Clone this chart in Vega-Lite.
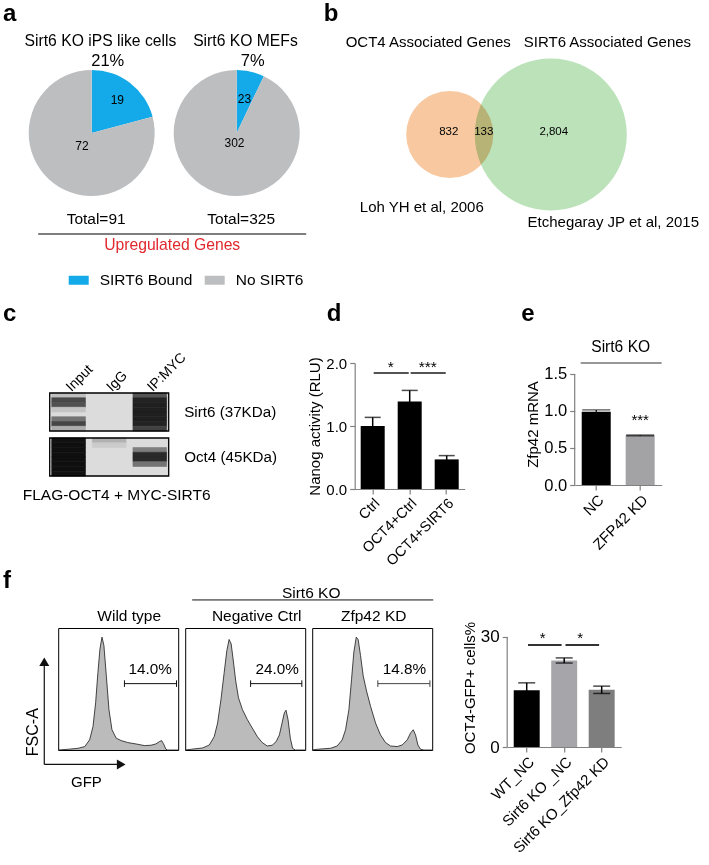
{
  "$schema": "https://vega.github.io/schema/vega-lite/v6.json",
  "padding": {"left": 3, "top": 1, "right": 0, "bottom": 0},
  "background": "white",
  "config": {
    "font": "Liberation Sans",
    "view": {"stroke": null},
    "axis": {"labelColor": "black", "titleColor": "black", "domainColor": "#808080", "tickColor": "#808080", "domainWidth": 1.2, "tickWidth": 1.2, "tickSize": 5, "labelPadding": 3, "titleFontWeight": "normal", "grid": false, "labelOverlap": false, "labelFontSize": 15, "titleFontSize": 15},
    "title": {"fontWeight": "normal", "color": "black", "fontSize": 15.5},
    "text": {"color": "black"},
    "legend": {"labelColor": "black"}
  },
  "datasets": {
    "pies": [
      {"cells": "Sirt6 KO iPS like cells", "binding": "SIRT6 Bound", "genes": 19},
      {"cells": "Sirt6 KO iPS like cells", "binding": "No SIRT6", "genes": 72},
      {"cells": "Sirt6 KO MEFs", "binding": "SIRT6 Bound", "genes": 23},
      {"cells": "Sirt6 KO MEFs", "binding": "No SIRT6", "genes": 302}
    ],
    "pieTotals": [
      {"cells": "Sirt6 KO iPS like cells", "total": "Total=91", "share": "21%"},
      {"cells": "Sirt6 KO MEFs", "total": "Total=325", "share": "7%"}
    ],
    "vennSets": [
      {"set": "OCT4", "genes": 965, "header": "OCT4 Associated Genes", "source": "Loh YH et al, 2006"},
      {"set": "SIRT6", "genes": 2937, "header": "SIRT6 Associated Genes", "source": "Etchegaray JP et al, 2015"}
    ],
    "vennRegions": [
      {"region": "OCT4 only", "genes": 832},
      {"region": "OCT4 and SIRT6", "genes": 133},
      {"region": "SIRT6 only", "genes": 2804}
    ],
    "blots": [{"blot": "Sirt6 (37KDa)"}, {"blot": "Oct4 (45KDa)"}],
    "bands": [
      {"blot": "Sirt6 (37KDa)", "lane": "Input", "bin": 1, "signal": 0.12},
      {"blot": "Sirt6 (37KDa)", "lane": "Input", "bin": 2, "signal": 0.66},
      {"blot": "Sirt6 (37KDa)", "lane": "Input", "bin": 3, "signal": 0.62},
      {"blot": "Sirt6 (37KDa)", "lane": "Input", "bin": 4, "signal": 0.1},
      {"blot": "Sirt6 (37KDa)", "lane": "Input", "bin": 6, "signal": 0.45},
      {"blot": "Sirt6 (37KDa)", "lane": "Input", "bin": 7, "signal": 0.68},
      {"blot": "Sirt6 (37KDa)", "lane": "Input", "bin": 8, "signal": 0.2},
      {"blot": "Sirt6 (37KDa)", "lane": "IP:MYC", "bin": 1, "signal": 0.6},
      {"blot": "Sirt6 (37KDa)", "lane": "IP:MYC", "bin": 2, "signal": 0.86},
      {"blot": "Sirt6 (37KDa)", "lane": "IP:MYC", "bin": 3, "signal": 0.88},
      {"blot": "Sirt6 (37KDa)", "lane": "IP:MYC", "bin": 4, "signal": 0.88},
      {"blot": "Sirt6 (37KDa)", "lane": "IP:MYC", "bin": 5, "signal": 0.88},
      {"blot": "Sirt6 (37KDa)", "lane": "IP:MYC", "bin": 6, "signal": 0.88},
      {"blot": "Sirt6 (37KDa)", "lane": "IP:MYC", "bin": 7, "signal": 0.86},
      {"blot": "Sirt6 (37KDa)", "lane": "IP:MYC", "bin": 8, "signal": 0.7},
      {"blot": "Oct4 (45KDa)", "lane": "Input", "bin": 1, "signal": 0.96},
      {"blot": "Oct4 (45KDa)", "lane": "Input", "bin": 2, "signal": 0.97},
      {"blot": "Oct4 (45KDa)", "lane": "Input", "bin": 3, "signal": 0.97},
      {"blot": "Oct4 (45KDa)", "lane": "Input", "bin": 4, "signal": 0.97},
      {"blot": "Oct4 (45KDa)", "lane": "Input", "bin": 5, "signal": 0.97},
      {"blot": "Oct4 (45KDa)", "lane": "Input", "bin": 6, "signal": 0.97},
      {"blot": "Oct4 (45KDa)", "lane": "Input", "bin": 7, "signal": 0.97},
      {"blot": "Oct4 (45KDa)", "lane": "Input", "bin": 8, "signal": 0.96},
      {"blot": "Oct4 (45KDa)", "lane": "IgG", "bin": 1, "signal": 0.18},
      {"blot": "Oct4 (45KDa)", "lane": "IgG", "bin": 2, "signal": 0.07},
      {"blot": "Oct4 (45KDa)", "lane": "IP:MYC", "bin": 3, "signal": 0.4},
      {"blot": "Oct4 (45KDa)", "lane": "IP:MYC", "bin": 4, "signal": 0.82},
      {"blot": "Oct4 (45KDa)", "lane": "IP:MYC", "bin": 5, "signal": 0.82},
      {"blot": "Oct4 (45KDa)", "lane": "IP:MYC", "bin": 6, "signal": 0.45}
    ],
    "nanog": [
      {"group": "Ctrl", "mean": 1.0, "sem": 0.137},
      {"group": "OCT4+Ctrl", "mean": 1.39, "sem": 0.175},
      {"group": "OCT4+SIRT6", "mean": 0.47, "sem": 0.06}
    ],
    "nanogSig": [
      {"from": "Ctrl", "to": "OCT4+Ctrl", "sig": "*"},
      {"from": "OCT4+Ctrl", "to": "OCT4+SIRT6", "sig": "***"}
    ],
    "zfp42": [
      {"group": "NC", "mean": 0.99, "sem": 0.025, "sig": ""},
      {"group": "ZFP42 KD", "mean": 0.67, "sem": 0.006, "sig": "***"}
    ],
    "zfpBracket": [
      {"from": "NC", "to": "ZFP42 KD", "cells": "Sirt6 KO"}
    ],
    "gfp": [
      {"group": "WT_NC", "mean": 15.5, "sem": 2.0},
      {"group": "Sirt6 KO _NC", "mean": 23.6, "sem": 0.7},
      {"group": "Sirt6 KO_Zfp42 KD", "mean": 15.6, "sem": 1.0}
    ],
    "gfpSig": [
      {"from": "WT_NC", "to": "Sirt6 KO _NC", "sig": "*"},
      {"from": "Sirt6 KO _NC", "to": "Sirt6 KO_Zfp42 KD", "sig": "*"}
    ],
    "gates": [
      {"sample": "Wild type", "lo": 55.2, "hi": 98.6, "pct": "14.0%"},
      {"sample": "Negative Ctrl", "lo": 54.5, "hi": 97.2, "pct": "24.0%"},
      {"sample": "Zfp42 KD", "lo": 54.7, "hi": 98.1, "pct": "14.8%"}
    ],
    "one": [{"k": 1}],
    "flow": [
      {"sample": "Wild type", "gfp": 0, "events": 0},
      {"sample": "Wild type", "gfp": 8.3, "events": 0.6},
      {"sample": "Wild type", "gfp": 16.6, "events": 1.4},
      {"sample": "Wild type", "gfp": 22.1, "events": 2.8},
      {"sample": "Wild type", "gfp": 26.2, "events": 8.3},
      {"sample": "Wild type", "gfp": 29.0, "events": 19.3},
      {"sample": "Wild type", "gfp": 31.2, "events": 38.7},
      {"sample": "Wild type", "gfp": 33.1, "events": 63.5},
      {"sample": "Wild type", "gfp": 34.8, "events": 82.9},
      {"sample": "Wild type", "gfp": 36.5, "events": 92.5},
      {"sample": "Wild type", "gfp": 38.1, "events": 85.6},
      {"sample": "Wild type", "gfp": 40.1, "events": 60.8},
      {"sample": "Wild type", "gfp": 42.3, "events": 33.1},
      {"sample": "Wild type", "gfp": 44.8, "events": 16.6},
      {"sample": "Wild type", "gfp": 48.3, "events": 9.7},
      {"sample": "Wild type", "gfp": 52.5, "events": 7.7},
      {"sample": "Wild type", "gfp": 58.0, "events": 6.1},
      {"sample": "Wild type", "gfp": 66.3, "events": 4.7},
      {"sample": "Wild type", "gfp": 71.8, "events": 3.6},
      {"sample": "Wild type", "gfp": 77.3, "events": 3.9},
      {"sample": "Wild type", "gfp": 81.5, "events": 5.0},
      {"sample": "Wild type", "gfp": 84.3, "events": 6.9},
      {"sample": "Wild type", "gfp": 86.2, "events": 7.7},
      {"sample": "Wild type", "gfp": 87.8, "events": 5.0},
      {"sample": "Wild type", "gfp": 89.8, "events": 0.6},
      {"sample": "Wild type", "gfp": 91.2, "events": 0},
      {"sample": "Wild type", "gfp": 100, "events": 0},
      {"sample": "Negative Ctrl", "gfp": 0, "events": 0},
      {"sample": "Negative Ctrl", "gfp": 5.0, "events": 0.6},
      {"sample": "Negative Ctrl", "gfp": 14.6, "events": 1.7},
      {"sample": "Negative Ctrl", "gfp": 20.1, "events": 4.1},
      {"sample": "Negative Ctrl", "gfp": 24.2, "events": 11.0},
      {"sample": "Negative Ctrl", "gfp": 27.0, "events": 22.1},
      {"sample": "Negative Ctrl", "gfp": 29.8, "events": 41.4},
      {"sample": "Negative Ctrl", "gfp": 32.5, "events": 63.5},
      {"sample": "Negative Ctrl", "gfp": 34.7, "events": 81.5},
      {"sample": "Negative Ctrl", "gfp": 36.6, "events": 90.6},
      {"sample": "Negative Ctrl", "gfp": 38.3, "events": 87.0},
      {"sample": "Negative Ctrl", "gfp": 39.9, "events": 74.6},
      {"sample": "Negative Ctrl", "gfp": 42.1, "events": 56.6},
      {"sample": "Negative Ctrl", "gfp": 44.4, "events": 42.8},
      {"sample": "Negative Ctrl", "gfp": 47.7, "events": 33.1},
      {"sample": "Negative Ctrl", "gfp": 51.8, "events": 24.9},
      {"sample": "Negative Ctrl", "gfp": 55.9, "events": 18.0},
      {"sample": "Negative Ctrl", "gfp": 60.1, "events": 11.0},
      {"sample": "Negative Ctrl", "gfp": 64.2, "events": 6.1},
      {"sample": "Negative Ctrl", "gfp": 68.3, "events": 3.3},
      {"sample": "Negative Ctrl", "gfp": 72.5, "events": 3.9},
      {"sample": "Negative Ctrl", "gfp": 75.8, "events": 6.9},
      {"sample": "Negative Ctrl", "gfp": 78.5, "events": 12.4},
      {"sample": "Negative Ctrl", "gfp": 80.7, "events": 22.1},
      {"sample": "Negative Ctrl", "gfp": 82.6, "events": 30.4},
      {"sample": "Negative Ctrl", "gfp": 84.0, "events": 32.6},
      {"sample": "Negative Ctrl", "gfp": 85.7, "events": 24.9},
      {"sample": "Negative Ctrl", "gfp": 87.6, "events": 9.7},
      {"sample": "Negative Ctrl", "gfp": 89.5, "events": 1.4},
      {"sample": "Negative Ctrl", "gfp": 91.7, "events": 0},
      {"sample": "Negative Ctrl", "gfp": 100, "events": 0},
      {"sample": "Zfp42 KD", "gfp": 0, "events": 0},
      {"sample": "Zfp42 KD", "gfp": 4.2, "events": 0.6},
      {"sample": "Zfp42 KD", "gfp": 15.3, "events": 1.4},
      {"sample": "Zfp42 KD", "gfp": 20.8, "events": 3.3},
      {"sample": "Zfp42 KD", "gfp": 25.0, "events": 8.3},
      {"sample": "Zfp42 KD", "gfp": 27.8, "events": 16.6},
      {"sample": "Zfp42 KD", "gfp": 30.6, "events": 33.1},
      {"sample": "Zfp42 KD", "gfp": 32.8, "events": 58.0},
      {"sample": "Zfp42 KD", "gfp": 34.7, "events": 80.1},
      {"sample": "Zfp42 KD", "gfp": 36.7, "events": 92.5},
      {"sample": "Zfp42 KD", "gfp": 38.3, "events": 90.6},
      {"sample": "Zfp42 KD", "gfp": 40.3, "events": 77.3},
      {"sample": "Zfp42 KD", "gfp": 42.5, "events": 60.8},
      {"sample": "Zfp42 KD", "gfp": 45.3, "events": 48.3},
      {"sample": "Zfp42 KD", "gfp": 48.6, "events": 35.9},
      {"sample": "Zfp42 KD", "gfp": 52.8, "events": 22.1},
      {"sample": "Zfp42 KD", "gfp": 56.9, "events": 12.4},
      {"sample": "Zfp42 KD", "gfp": 61.1, "events": 6.1},
      {"sample": "Zfp42 KD", "gfp": 65.3, "events": 3.3},
      {"sample": "Zfp42 KD", "gfp": 70.8, "events": 2.8},
      {"sample": "Zfp42 KD", "gfp": 75.0, "events": 4.1},
      {"sample": "Zfp42 KD", "gfp": 79.2, "events": 8.3},
      {"sample": "Zfp42 KD", "gfp": 81.9, "events": 13.8},
      {"sample": "Zfp42 KD", "gfp": 84.2, "events": 16.6},
      {"sample": "Zfp42 KD", "gfp": 86.1, "events": 12.4},
      {"sample": "Zfp42 KD", "gfp": 88.1, "events": 4.1},
      {"sample": "Zfp42 KD", "gfp": 90.3, "events": 0.6},
      {"sample": "Zfp42 KD", "gfp": 93.1, "events": 0},
      {"sample": "Zfp42 KD", "gfp": 100, "events": 0}
    ]
  },
  "columns": 1,
  "align": "none",
  "spacing": 12,
  "resolve": {"scale": {"color": "independent", "size": "independent"}, "legend": {"color": "independent", "size": "independent"}},
  "concat": [
    {
      "columns": 2, "align": "none", "spacing": 6.7,
      "resolve": {"scale": {"color": "independent", "size": "independent"}, "legend": {"color": "independent", "size": "independent"}},
      "concat": [
        {
          "width": 1, "height": 1,
          "data": {"name": "one"},
          "mark": {"type": "text", "text": ""},
          "title": {"text": "a", "anchor": "start", "frame": "group", "offset": 20, "fontSize": 24, "fontWeight": "bold", "baseline": "alphabetic"}
        },
        {
          "columns": 2, "align": "none", "spacing": 18,
          "resolve": {"scale": {"color": "independent", "size": "independent"}, "legend": {"color": "independent", "size": "independent"}},
          "concat": [
            {
              "width": 268, "height": 126,
              "data": {"name": "pies"},
              "encoding": {
                "x": {"field": "cells", "type": "nominal",
                  "scale": {"type": "point", "domain": ["Sirt6 KO iPS like cells", "Sirt6 KO MEFs"], "padding": 0.424, "align": 0.439},
                  "axis": {"orient": "bottom", "offset": 37.5, "domain": true, "domainColor": "black", "domainWidth": 1.2, "ticks": false, "labels": false, "title": "Upregulated Genes", "titleColor": "#E0282D", "titleFontSize": 15.7, "titlePadding": 4}}
              },
              "layer": [
                {"transform": [{"filter": "datum.cells === 'Sirt6 KO iPS like cells'"}],
                 "mark": {"type": "arc", "radius": 63},
                 "encoding": {
                   "theta": {"field": "genes", "type": "quantitative", "stack": true},
                   "order": {"field": "binding", "sort": "descending"},
                   "color": {"field": "binding", "type": "nominal",
                     "scale": {"domain": ["SIRT6 Bound", "No SIRT6"], "range": ["#14A9E8", "#BDBEC0"]},
                     "legend": {"orient": "none", "legendX": 31, "legendY": 200, "direction": "horizontal", "title": null, "symbolType": "M-1,-0.45H1V0.45H-1Z", "symbolSize": 400, "symbolStrokeWidth": 0, "labelFontSize": 15.5, "labelOffset": 11, "columnPadding": 12, "padding": 0}}
                 }},
                {"transform": [{"filter": "datum.cells === 'Sirt6 KO MEFs'"}],
                 "mark": {"type": "arc", "radius": 63},
                 "encoding": {
                   "theta": {"field": "genes", "type": "quantitative", "stack": true},
                   "order": {"field": "binding", "sort": "descending"},
                   "color": {"field": "binding", "type": "nominal"}
                 }},
                {"transform": [{"filter": "datum.cells === 'Sirt6 KO iPS like cells'"}],
                 "mark": {"type": "text", "radius": 42, "fontSize": 12},
                 "encoding": {
                   "theta": {"field": "genes", "type": "quantitative", "stack": true},
                   "order": {"field": "binding", "sort": "descending"},
                   "text": {"condition": {"test": "datum.binding === 'SIRT6 Bound'", "field": "genes", "type": "quantitative"}, "value": ""}
                 }},
                {"transform": [{"filter": "datum.cells === 'Sirt6 KO iPS like cells'"}],
                 "mark": {"type": "text", "radius": 16, "fontSize": 12},
                 "encoding": {
                   "theta": {"field": "genes", "type": "quantitative", "stack": true},
                   "order": {"field": "binding", "sort": "descending"},
                   "text": {"condition": {"test": "datum.binding === 'No SIRT6'", "field": "genes", "type": "quantitative"}, "value": ""}
                 }},
                {"transform": [{"filter": "datum.cells === 'Sirt6 KO MEFs'"}],
                 "mark": {"type": "text", "radius": 35, "fontSize": 12},
                 "encoding": {
                   "theta": {"field": "genes", "type": "quantitative", "stack": true},
                   "order": {"field": "binding", "sort": "descending"},
                   "text": {"condition": {"test": "datum.binding === 'SIRT6 Bound'", "field": "genes", "type": "quantitative"}, "value": ""}
                 }},
                {"transform": [{"filter": "datum.cells === 'Sirt6 KO MEFs'"}],
                 "mark": {"type": "text", "radius": 10, "fontSize": 12},
                 "encoding": {
                   "theta": {"field": "genes", "type": "quantitative", "stack": true},
                   "order": {"field": "binding", "sort": "descending"},
                   "text": {"condition": {"test": "datum.binding === 'No SIRT6'", "field": "genes", "type": "quantitative"}, "value": ""}
                 }},
                {"data": {"name": "pieTotals"},
                 "mark": {"type": "text", "theta": 3.09, "radius": 86.5, "fontSize": 15.5},
                 "encoding": {"text": {"field": "total"}}},
                {"data": {"name": "pieTotals"},
                 "mark": {"type": "text", "theta": 0.095, "radius": 92, "fontSize": 15.7},
                 "encoding": {"text": {"field": "cells"}}},
                {"data": {"name": "pieTotals"},
                 "mark": {"type": "text", "theta": 0.22, "radius": 73.5, "fontSize": 16.5},
                 "encoding": {"text": {"field": "share"}}}
              ],
              "resolve": {"scale": {"theta": "independent"}}
            },
            {
              "width": 303, "height": 129,
              "title": {"text": "b", "anchor": "start", "frame": "group", "dx": -18, "offset": -9.5, "fontSize": 24, "fontWeight": "bold", "baseline": "alphabetic"},
              "encoding": {
                "x": {"field": "set", "type": "nominal", "scale": {"type": "point", "domain": ["OCT4", "SIRT6"], "padding": 1, "align": 0.535}, "axis": null}
              },
              "layer": [
                {"data": {"name": "vennSets"},
                 "mark": {"type": "point", "shape": "circle", "filled": true, "opacity": 1, "strokeWidth": 0, "blend": "multiply"},
                 "encoding": {
                   "size": {"field": "genes", "type": "quantitative", "scale": {"domain": [0, 2937], "range": [0, 23104]}, "legend": null},
                   "color": {"field": "set", "type": "nominal", "scale": {"domain": ["OCT4", "SIRT6"], "range": ["#F8C9A0", "#BCE2BA"]}, "legend": null}
                 }},
                {"data": {"name": "vennSets"}, "transform": [{"filter": "datum.set === 'OCT4'"}],
                 "mark": {"type": "text", "align": "right", "dx": 61, "dy": -92.5, "fontSize": 15},
                 "encoding": {"text": {"field": "header"}}},
                {"data": {"name": "vennSets"}, "transform": [{"filter": "datum.set === 'SIRT6'"}],
                 "mark": {"type": "text", "align": "left", "dx": -27, "dy": -92.5, "fontSize": 15},
                 "encoding": {"text": {"field": "header"}}},
                {"data": {"name": "vennSets"}, "transform": [{"filter": "datum.set === 'OCT4'"}],
                 "mark": {"type": "text", "dx": -28, "dy": 72, "fontSize": 15},
                 "encoding": {"text": {"field": "source"}}},
                {"data": {"name": "vennSets"}, "transform": [{"filter": "datum.set === 'SIRT6'"}],
                 "mark": {"type": "text", "dx": 62.5, "dy": 87.5, "fontSize": 15},
                 "encoding": {"text": {"field": "source"}}},
                {"data": {"name": "vennRegions"}, "transform": [{"filter": "datum.region === 'OCT4 only'"}],
                 "mark": {"type": "text", "dx": -1, "dy": -3, "fontSize": 11.5},
                 "encoding": {"x": {"datum": "OCT4", "type": "nominal", "axis": null}, "text": {"field": "genes", "type": "quantitative", "format": ","}}},
                {"data": {"name": "vennRegions"}, "transform": [{"filter": "datum.region === 'OCT4 and SIRT6'"}],
                 "mark": {"type": "text", "dx": 34, "dy": -3, "fontSize": 11.5},
                 "encoding": {"x": {"datum": "OCT4", "type": "nominal", "axis": null}, "text": {"field": "genes", "type": "quantitative", "format": ","}}},
                {"data": {"name": "vennRegions"}, "transform": [{"filter": "datum.region === 'SIRT6 only'"}],
                 "mark": {"type": "text", "dx": 3, "dy": -3, "fontSize": 11.5},
                 "encoding": {"x": {"datum": "SIRT6", "type": "nominal", "axis": null}, "text": {"field": "genes", "type": "quantitative", "format": ","}}}
              ]
            }
          ]
        }
      ]
    },
    {
      "columns": 1, "align": "none", "spacing": 0,
      "resolve": {"scale": {"color": "independent"}, "legend": {"color": "independent"}},
      "concat": [
        {
          "columns": 2, "align": "none", "spacing": 5.7,
          "resolve": {"scale": {"color": "independent"}, "legend": {"color": "independent"}},
          "concat": [
            {
              "width": 1, "height": 1,
              "data": {"name": "one"},
              "mark": {"type": "text", "text": ""},
              "title": {"text": "c", "anchor": "start", "frame": "group", "offset": 13, "fontSize": 24, "fontWeight": "bold", "baseline": "alphabetic"}
            },
            {
              "columns": 2, "align": "none", "spacing": 56,
              "resolve": {"scale": {"color": "independent"}, "legend": {"color": "independent"}},
              "concat": [
                {
                  "columns": 2, "align": "none", "spacing": 30,
                  "resolve": {"scale": {"color": "independent"}, "legend": {"color": "independent"}},
                  "concat": [
                    {
                      "width": 119, "height": 113,
                      "title": {"text": "FLAG-OCT4 + MYC-SIRT6", "orient": "bottom", "anchor": "start", "frame": "group", "dx": -27, "offset": 11, "fontSize": 15.5, "baseline": "top"},
                      "encoding": {
                        "y": {"field": "blot", "type": "nominal", "scale": {"domain": ["Sirt6 (37KDa)", "Oct4 (45KDa)"], "paddingInner": 0.156, "paddingOuter": 0.333, "align": 1},
                          "axis": {"orient": "right", "title": null, "ticks": false, "domain": false, "labelPadding": 15, "labelFontSize": 15.2}}
                      },
                      "layer": [
                        {"data": {"name": "blots"}, "mark": {"type": "rect", "fill": "#dcdcdc"}},
                        {"data": {"name": "bands"}, "mark": {"type": "rect", "strokeWidth": 0.6},
                         "encoding": {
                           "x": {"field": "lane", "type": "nominal", "scale": {"domain": ["Input", "IgG", "IP:MYC"], "paddingInner": 0.17, "paddingOuter": 0.05},
                             "axis": {"orient": "top", "offset": -30, "title": null, "ticks": false, "domain": false, "labelAngle": -45, "labelAlign": "left", "labelBaseline": "middle", "labelPadding": 4, "labelFontSize": 14}},
                           "yOffset": {"field": "bin", "type": "ordinal", "scale": {"domain": [1, 2, 3, 4, 5, 6, 7, 8], "paddingInner": 0, "paddingOuter": 0}},
                           "color": {"field": "signal", "type": "quantitative", "scale": {"domain": [0, 1], "range": ["#dcdcdc", "#060606"]}, "legend": null},
                           "stroke": {"field": "signal", "type": "quantitative", "scale": {"domain": [0, 1], "range": ["#dcdcdc", "#060606"]}, "legend": null}
                         }},
                        {"data": {"name": "blots"}, "mark": {"type": "rect", "fill": "transparent", "stroke": "black", "strokeWidth": 1.3}}
                      ]
                    },
                    {
                      "width": 110, "height": 126,
                      "title": {"text": "d", "anchor": "start", "frame": "group", "dx": -28, "offset": 11, "fontSize": 24, "fontWeight": "bold", "baseline": "alphabetic"},
                      "layer": [
                        {"data": {"name": "nanog"}, "mark": {"type": "bar", "color": "black"},
                         "encoding": {
                           "x": {"field": "group", "type": "nominal", "title": null, "scale": {"domain": ["Ctrl", "OCT4+Ctrl", "OCT4+SIRT6"], "paddingInner": 0.351, "paddingOuter": 0.162},
                             "axis": {"title": null, "labelAngle": -45, "labelAlign": "right", "labelBaseline": "top", "labelFontSize": 14.5, "labelPadding": 2}},
                           "y": {"field": "mean", "type": "quantitative", "title": "Nanog activity (RLU)", "scale": {"domain": [0, 2], "nice": false},
                             "axis": {"values": [0, 0.5, 1, 1.5, 2], "format": ".1f", "title": "Nanog activity (RLU)", "titlePadding": 3.5}}
                         }},
                        {"data": {"name": "nanog"}, "mark": {"type": "errorbar", "color": "black", "thickness": 1.5, "ticks": {"size": 16}},
                         "encoding": {
                           "x": {"field": "group", "type": "nominal", "title": null},
                           "y": {"field": "mean", "type": "quantitative", "title": "Nanog activity (RLU)"},
                           "yError": {"field": "sem"}
                         }},
                        {"data": {"name": "nanogSig"}, "mark": {"type": "rule", "color": "#1a1a1a", "strokeWidth": 1.5},
                         "encoding": {
                           "x": {"field": "from", "type": "nominal", "title": null, "bandPosition": 0.54},
                           "x2": {"field": "to", "bandPosition": 0.46},
                           "y": {"datum": 1.84}
                         }},
                        {"data": {"name": "nanogSig"}, "mark": {"type": "text", "dx": 18, "fontSize": 15.5, "baseline": "alphabetic"},
                         "encoding": {
                           "x": {"field": "from", "type": "nominal", "title": null},
                           "y": {"datum": 1.86},
                           "text": {"field": "sig"}
                         }}
                      ]
                    }
                  ]
                },
                {
                  "title": {"text": "e", "anchor": "start", "dx": -4, "offset": -4.7, "fontSize": 24, "fontWeight": "bold", "baseline": "alphabetic"},
                  "vconcat": [
                    {
                      "width": 87, "height": 122,
                      "title": {"text": "Sirt6 KO", "fontSize": 15.6, "anchor": "middle", "frame": "group", "dx": 2.5, "offset": -5.1, "baseline": "alphabetic"},
                      "layer": [
                        {"data": {"name": "zfp42"}, "mark": {"type": "bar"},
                         "encoding": {
                           "x": {"field": "group", "type": "nominal", "title": null, "scale": {"domain": ["NC", "ZFP42 KD"], "paddingInner": 0.34, "paddingOuter": 0.16},
                             "axis": {"title": null, "labelAngle": -45, "labelAlign": "right", "labelBaseline": "top", "labelFontSize": 15, "labelPadding": 2}},
                           "y": {"field": "mean", "type": "quantitative", "title": "Zfp42 mRNA", "scale": {"domain": [0, 1.6486], "nice": false},
                             "axis": {"values": [0, 0.5, 1, 1.5], "format": ".1f", "title": "Zfp42 mRNA", "domain": false, "labelFontSize": 16.5, "titlePadding": 3.5}},
                           "color": {"field": "group", "type": "nominal", "scale": {"domain": ["NC", "ZFP42 KD"], "range": ["#000000", "#A3A3A6"]}, "legend": null}
                         }},
                        {"data": {"name": "zfp42"}, "mark": {"type": "errorbar", "color": "black", "thickness": 1.2, "ticks": {"size": 28}},
                         "encoding": {
                           "x": {"field": "group", "type": "nominal", "title": null},
                           "y": {"field": "mean", "type": "quantitative", "title": "Zfp42 mRNA"},
                           "yError": {"field": "sem"}
                         }},
                        {"data": {"name": "zfpBracket"}, "mark": {"type": "rule", "color": "#808080", "strokeWidth": 1.2},
                         "encoding": {
                           "x": {"field": "from", "type": "nominal", "title": null, "bandPosition": -0.2424},
                           "y": {"datum": 0},
                           "y2": {"datum": 1.5}
                         }},
                        {"data": {"name": "zfpBracket"}, "mark": {"type": "rule", "color": "#333333", "strokeWidth": 1.2},
                         "encoding": {
                           "x": {"field": "from", "type": "nominal", "title": null, "bandPosition": -0.036},
                           "x2": {"field": "to", "bandPosition": 1.242},
                           "y": {"datum": 1.6486}
                         }},
                        {"data": {"name": "zfp42"}, "mark": {"type": "text", "fontSize": 15, "baseline": "alphabetic"},
                         "encoding": {
                           "x": {"field": "group", "type": "nominal", "title": null},
                           "y": {"datum": 0.81},
                           "text": {"field": "sig"}
                         }}
                      ]
                    }
                  ]
                }
              ]
            }
          ]
        },
        {
          "columns": 2, "align": "none", "spacing": 13.2,
          "resolve": {"scale": {"color": "independent"}, "legend": {"color": "independent"}},
          "concat": [
            {
              "width": 1, "height": 1,
              "data": {"name": "one"},
              "mark": {"type": "text", "text": ""},
              "title": {"text": "f", "anchor": "start", "frame": "group", "offset": 11, "fontSize": 24, "fontWeight": "bold", "baseline": "alphabetic"}
            },
            {
              "columns": 2, "align": "none", "spacing": 27,
              "resolve": {"scale": {"color": "independent"}, "legend": {"color": "independent"}},
              "concat": [
                {
                  "bounds": "flush",
                  "spacing": 7,
                  "hconcat": [
                    {
                      "width": 120, "height": 122,
                      "view": {"stroke": "black", "strokeWidth": 1},
                      "title": {"text": "Wild type", "fontSize": 15.5, "frame": "group", "dx": 11, "offset": -8.5, "baseline": "alphabetic"},
                      "layer": [
                        {"data": {"name": "flow"}, "transform": [{"filter": "datum.sample === 'Wild type'"}],
                         "mark": {"type": "area", "color": "#9e9e9e", "line": {"color": "#1a1a1a", "strokeWidth": 0.8}},
                         "encoding": {
                           "x": {"field": "gfp", "type": "quantitative", "scale": {"domain": [0, 100]}, "axis": null},
                           "y": {"field": "events", "type": "quantitative", "scale": {"domain": [0, 100]}, "axis": null}
                         }},
                        {"data": {"name": "gates"}, "transform": [{"filter": "datum.sample === 'Wild type'"}],
                         "mark": {"type": "rule", "color": "#111111", "strokeWidth": 1},
                         "encoding": {"x": {"field": "lo", "type": "quantitative", "axis": null}, "x2": {"field": "hi"}, "y": {"datum": 54.4, "axis": null}}},
                        {"data": {"name": "gates"}, "transform": [{"filter": "datum.sample === 'Wild type'"}],
                         "mark": {"type": "rule", "color": "#111111", "strokeWidth": 1},
                         "encoding": {"x": {"field": "lo", "type": "quantitative", "axis": null}, "y": {"datum": 51.7, "axis": null}, "y2": {"datum": 57.1}}},
                        {"data": {"name": "gates"}, "transform": [{"filter": "datum.sample === 'Wild type'"}],
                         "mark": {"type": "rule", "color": "#111111", "strokeWidth": 1},
                         "encoding": {"x": {"field": "hi", "type": "quantitative", "axis": null}, "y": {"datum": 51.7, "axis": null}, "y2": {"datum": 57.1}}},
                        {"data": {"name": "gates"}, "transform": [{"filter": "datum.sample === 'Wild type'"}],
                         "mark": {"type": "text", "fontSize": 15.3},
                         "encoding": {"x": {"datum": 76.7, "axis": null}, "y": {"datum": 66.3, "axis": null}, "text": {"field": "pct"}}},
                        {"data": {"name": "one"}, "mark": {"type": "rule", "color": "#111111", "strokeWidth": 1.2},
                         "encoding": {"x": {"datum": -11.6, "axis": null}, "y": {"datum": -11.8, "axis": null}, "y2": {"datum": 71}}},
                        {"data": {"name": "one"}, "mark": {"type": "rule", "color": "#111111", "strokeWidth": 1.2},
                         "encoding": {"x": {"datum": -11.6, "axis": null}, "x2": {"datum": 51}, "y": {"datum": -11.8, "axis": null}}},
                        {"data": {"name": "one"}, "mark": {"type": "point", "shape": "triangle-up", "size": 100, "filled": true, "opacity": 1, "color": "#111111"},
                         "encoding": {"x": {"datum": -11.6, "axis": null}, "y": {"datum": 72.3, "axis": null}}},
                        {"data": {"name": "one"}, "mark": {"type": "point", "shape": "triangle-right", "size": 100, "filled": true, "opacity": 1, "color": "#111111"},
                         "encoding": {"x": {"datum": 52.5, "axis": null}, "y": {"datum": -11.8, "axis": null}}},
                        {"data": {"name": "one"}, "mark": {"type": "text", "text": "FSC-A", "angle": 270, "fontSize": 16},
                         "encoding": {"x": {"datum": -20.7, "axis": null}, "y": {"datum": 14.6, "axis": null}}},
                        {"data": {"name": "one"}, "mark": {"type": "text", "text": "GFP", "fontSize": 15},
                         "encoding": {"x": {"datum": 23.5, "axis": null}, "y": {"datum": -26.6, "axis": null}}}
                      ]
                    },
                    {
                      "width": 120, "height": 122,
                      "view": {"stroke": "black", "strokeWidth": 1},
                      "layer": [
                        {"data": {"name": "flow"}, "transform": [{"filter": "datum.sample === 'Negative Ctrl'"}],
                         "mark": {"type": "area", "color": "#9e9e9e", "line": {"color": "#1a1a1a", "strokeWidth": 0.8}},
                         "encoding": {
                           "x": {"field": "gfp", "type": "quantitative", "scale": {"domain": [0, 100]}, "axis": null},
                           "y": {"field": "events", "type": "quantitative", "scale": {"domain": [0, 100]}, "axis": null}
                         }},
                        {"data": {"name": "gates"}, "transform": [{"filter": "datum.sample === 'Negative Ctrl'"}],
                         "mark": {"type": "rule", "color": "#111111", "strokeWidth": 1},
                         "encoding": {"x": {"field": "lo", "type": "quantitative", "axis": null}, "x2": {"field": "hi"}, "y": {"datum": 54.4, "axis": null}}},
                        {"data": {"name": "gates"}, "transform": [{"filter": "datum.sample === 'Negative Ctrl'"}],
                         "mark": {"type": "rule", "color": "#111111", "strokeWidth": 1},
                         "encoding": {"x": {"field": "lo", "type": "quantitative", "axis": null}, "y": {"datum": 51.7, "axis": null}, "y2": {"datum": 57.1}}},
                        {"data": {"name": "gates"}, "transform": [{"filter": "datum.sample === 'Negative Ctrl'"}],
                         "mark": {"type": "rule", "color": "#111111", "strokeWidth": 1},
                         "encoding": {"x": {"field": "hi", "type": "quantitative", "axis": null}, "y": {"datum": 51.7, "axis": null}, "y2": {"datum": 57.1}}},
                        {"data": {"name": "gates"}, "transform": [{"filter": "datum.sample === 'Negative Ctrl'"}],
                         "mark": {"type": "text", "fontSize": 15.3},
                         "encoding": {"x": {"datum": 76.6, "axis": null}, "y": {"datum": 66.3, "axis": null}, "text": {"field": "pct"}}},
                        {"data": {"name": "one"}, "mark": {"type": "text", "text": "Negative Ctrl", "fontSize": 15.5},
                         "encoding": {"x": {"datum": 59.6, "axis": null}, "y": {"datum": 110.2, "axis": null}}},
                        {"data": {"name": "one"}, "mark": {"type": "text", "text": "Sirt6 KO", "fontSize": 15.5},
                         "encoding": {"x": {"datum": 105, "axis": null}, "y": {"datum": 128.7, "axis": null}}},
                        {"data": {"name": "one"}, "mark": {"type": "rule", "color": "#111111", "strokeWidth": 1},
                         "encoding": {"x": {"datum": 5.8, "axis": null}, "x2": {"datum": 206.7}, "y": {"datum": 123, "axis": null}}}
                      ]
                    },
                    {
                      "width": 120, "height": 122,
                      "view": {"stroke": "black", "strokeWidth": 1},
                      "title": {"text": "Zfp42 KD", "fontSize": 15.5, "frame": "group", "dx": 1.5, "offset": -8.5, "baseline": "alphabetic"},
                      "layer": [
                        {"data": {"name": "flow"}, "transform": [{"filter": "datum.sample === 'Zfp42 KD'"}],
                         "mark": {"type": "area", "color": "#9e9e9e", "line": {"color": "#1a1a1a", "strokeWidth": 0.8}},
                         "encoding": {
                           "x": {"field": "gfp", "type": "quantitative", "scale": {"domain": [0, 100]}, "axis": null},
                           "y": {"field": "events", "type": "quantitative", "scale": {"domain": [0, 100]}, "axis": null}
                         }},
                        {"data": {"name": "gates"}, "transform": [{"filter": "datum.sample === 'Zfp42 KD'"}],
                         "mark": {"type": "rule", "color": "#444444", "strokeWidth": 1},
                         "encoding": {"x": {"field": "lo", "type": "quantitative", "axis": null}, "x2": {"field": "hi"}, "y": {"datum": 54.4, "axis": null}}},
                        {"data": {"name": "gates"}, "transform": [{"filter": "datum.sample === 'Zfp42 KD'"}],
                         "mark": {"type": "rule", "color": "#444444", "strokeWidth": 1},
                         "encoding": {"x": {"field": "lo", "type": "quantitative", "axis": null}, "y": {"datum": 51.7, "axis": null}, "y2": {"datum": 57.1}}},
                        {"data": {"name": "gates"}, "transform": [{"filter": "datum.sample === 'Zfp42 KD'"}],
                         "mark": {"type": "rule", "color": "#444444", "strokeWidth": 1},
                         "encoding": {"x": {"field": "hi", "type": "quantitative", "axis": null}, "y": {"datum": 51.7, "axis": null}, "y2": {"datum": 57.1}}},
                        {"data": {"name": "gates"}, "transform": [{"filter": "datum.sample === 'Zfp42 KD'"}],
                         "mark": {"type": "text", "fontSize": 15.3},
                         "encoding": {"x": {"datum": 76.9, "axis": null}, "y": {"datum": 66.3, "axis": null}, "text": {"field": "pct"}}}
                      ]
                    }
                  ]
                },
                {
                  "width": 114, "height": 119,
                  "layer": [
                    {"data": {"name": "gfp"}, "mark": {"type": "bar"},
                     "encoding": {
                       "x": {"field": "group", "type": "nominal", "title": null, "scale": {"domain": ["WT_NC", "Sirt6 KO _NC", "Sirt6 KO_Zfp42 KD"], "paddingInner": 0.307, "paddingOuter": 0.174},
                         "axis": {"title": null, "labelAngle": -45, "labelAlign": "right", "labelBaseline": "top", "labelFontSize": 15, "labelPadding": 2}},
                       "y": {"field": "mean", "type": "quantitative", "title": "OCT4-GFP+ cells%", "scale": {"domain": [0, 32.4545], "nice": false},
                         "axis": {"values": [0, 10, 20, 30], "title": "OCT4-GFP+ cells%", "domain": false, "labelFontSize": 17, "titlePadding": 3}},
                       "color": {"field": "group", "type": "nominal", "scale": {"domain": ["WT_NC", "Sirt6 KO _NC", "Sirt6 KO_Zfp42 KD"], "range": ["#000000", "#A6A6AA", "#7E7E7E"]}, "legend": null}
                     }},
                    {"data": {"name": "gfp"}, "mark": {"type": "errorbar", "color": "black", "thickness": 1.5, "ticks": {"size": 17}},
                     "encoding": {
                       "x": {"field": "group", "type": "nominal", "title": null},
                       "y": {"field": "mean", "type": "quantitative", "title": "OCT4-GFP+ cells%"},
                       "yError": {"field": "sem"}
                     }},
                    {"data": {"name": "gfp"}, "transform": [{"filter": "datum.group === 'WT_NC'"}],
                     "mark": {"type": "rule", "color": "#808080", "strokeWidth": 1.2},
                     "encoding": {
                       "x": {"field": "group", "type": "nominal", "title": null, "bandPosition": -0.251},
                       "y": {"datum": 0},
                       "y2": {"datum": 30}
                     }},
                    {"data": {"name": "gfpSig"}, "mark": {"type": "rule", "color": "#333333", "strokeWidth": 2},
                     "encoding": {
                       "x": {"field": "from", "type": "nominal", "title": null, "bandPosition": 0.55},
                       "x2": {"field": "to", "bandPosition": 0.4},
                       "y": {"datum": 27.8}
                     }},
                    {"data": {"name": "gfpSig"}, "mark": {"type": "text", "dx": 16, "fontSize": 15, "baseline": "alphabetic"},
                     "encoding": {
                       "x": {"field": "from", "type": "nominal", "title": null},
                       "y": {"datum": 28.4},
                       "text": {"field": "sig"}
                     }}
                  ]
                }
              ]
            }
          ]
        }
      ]
    }
  ]
}
